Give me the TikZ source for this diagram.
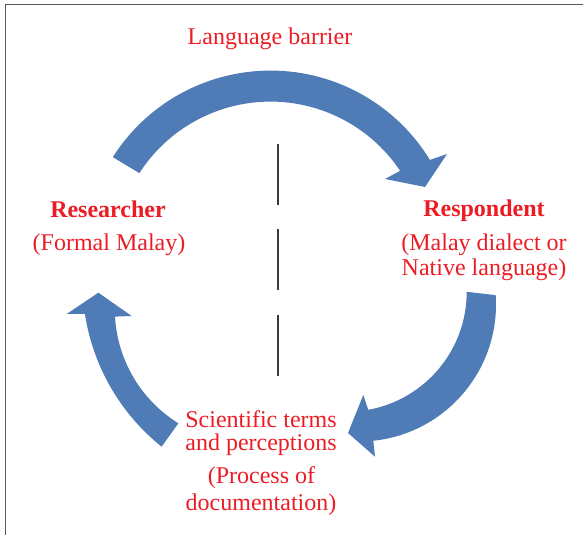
\documentclass[tikz,border=0pt]{standalone}
\usepackage{fontspec}
\setmainfont{Liberation Serif}
\usetikzlibrary{calc}
\definecolor{cycleblue}{RGB}{79,124,182}
\definecolor{labelred}{RGB}{236,28,36}
\definecolor{framegray}{RGB}{88,88,88}
\definecolor{dividergray}{RGB}{60,60,60}
\begin{document}
\begin{tikzpicture}[x=1pt,y=1pt,
  arrowfill/.style={fill=cycleblue},
  label/.style={text=labelred,inner sep=0pt,anchor=base,font=\fontsize{24}{26}\selectfont},
  boldlabel/.style={label,font=\fontsize{24}{26}\selectfont\bfseries},
  framing/.style={draw=framegray,line width=1.6pt},
  divider/.style={draw=dividergray,line width=2pt,dash pattern=on 61pt off 24.5pt}]
\useasboundingbox (0,0) rectangle (583,535);

% outer frame (top and left edges)
\coordinate (frameR) at (583,530.5);
\coordinate (frameC) at (5.5,530.5);
\coordinate (frameB) at (5.5,0);
\draw[framing] (frameR) -- (frameC) -- (frameB);

% dashed divider between the two sides
\coordinate (dtop) at (278,391);
\coordinate (dbot) at (278,159);
\draw[divider] (dtop) -- (dbot);

% top curved arrow: researcher -> respondent
\coordinate (c1) at (270.5,277.4);
\fill[arrowfill] ($(c1)+(147.5:187)$) arc[start angle=147.5,end angle=31.5,radius=187pt]
  -- (447,381) -- (425,348) -- (385,356)
  -- ($(c1)+(33.8:156)$) arc[start angle=33.8,end angle=147.2,radius=156pt] -- cycle;

% right curved arrow: respondent -> documentation
\coordinate (c2o) at (359,230.5);
\coordinate (c2i) at (347,243);
\fill[arrowfill] ($(c2o)+(3.9:137)$) arc[start angle=3.9,end angle=-84,radius=137pt]
  -- (375,78.3) -- (348,102) -- (363.3,140)
  -- ($(c2i)+(-79.8:119.7)$) arc[start angle=-79.8,end angle=0.1,radius=119.7pt] -- cycle;

% left curved arrow: documentation -> researcher
\coordinate (c3o) at (293.5,253);
\coordinate (c3i) at (249.2,225.9);
\fill[arrowfill] (66.7,221) -- (98.3,242.3) -- (131.7,219)
  -- ($(c3i)+(183.2:134.4)$) arc[start angle=183.2,end angle=238.2,radius=134.4pt]
  -- ($(c3o)+(231.3:211)$) arc[start angle=231.3,end angle=188.7,radius=211pt] -- cycle;

% labels
\node[label] (barrier) at (270,490) {Language barrier};
\node[boldlabel] (researcher) at (108,317) {Researcher};
\node[label] (formal) at (109,284) {(Formal Malay)};
\node[boldlabel] (respondent) at (484,318) {Respondent};
\node[label] (dialect1) at (484,284) {(Malay dialect or};
\node[label] (dialect2) at (484,259) {Native language)};
\node[label] (terms1) at (261,107) {Scientific terms};
\node[label] (terms2) at (261,84) {and perceptions};
\node[label] (process1) at (261.5,52) {(Process of};
\node[label] (process2) at (261,24) {documentation)};
\end{tikzpicture}
\end{document}
